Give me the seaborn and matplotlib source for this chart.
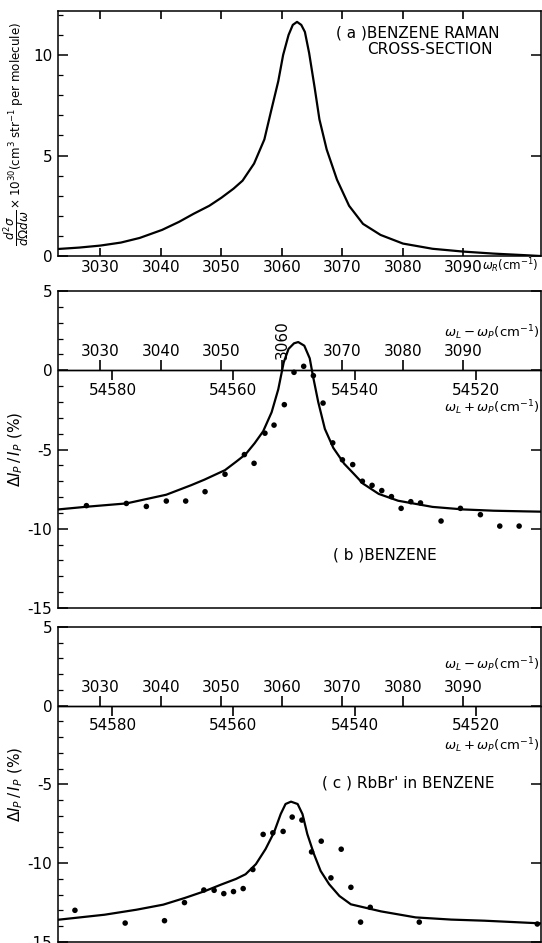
import matplotlib
matplotlib.use('Agg')
import matplotlib.pyplot as plt
import seaborn as sns
from matplotlib.ticker import MultipleLocator

# (a) benzene Raman cross-section, omega_R (cm^-1) vs d2sigma/dOmega domega x 1e30
raman_w = [3023.0, 3026.5, 3030.0, 3033.4, 3036.5, 3040.2, 3043.0, 3045.4, 3048.0,
           3050.0, 3052.0, 3053.5, 3055.4, 3057.1, 3058.2, 3059.4, 3060.2, 3061.1,
           3061.8, 3062.5, 3063.2, 3063.8, 3064.5, 3065.4, 3066.2, 3067.4, 3069.1,
           3071.1, 3073.4, 3076.3, 3080.0, 3084.9, 3090.0, 3095.0, 3100.3, 3102.8]
raman_sig = [0.35, 0.42, 0.52, 0.67, 0.9, 1.3, 1.7, 2.1, 2.5,
             2.9, 3.35, 3.75, 4.6, 5.8, 7.2, 8.7, 10.0, 11.0,
             11.5, 11.65, 11.5, 11.15, 10.1, 8.4, 6.8, 5.3, 3.8,
             2.5, 1.6, 1.05, 0.62, 0.36, 0.22, 0.12, 0.04, 0.0]

# (b) benzene, fit curve and measured points (Delta I_P / I_P in %)
benz_fit_w = [3023.0, 3028.0, 3034.3, 3040.9, 3045.0, 3047.2, 3050.6, 3052.5, 3054.0,
              3055.5, 3056.9, 3058.3, 3059.4, 3060.3, 3061.1, 3062.0, 3062.7, 3063.7,
              3064.6, 3065.1, 3066.0, 3067.1, 3068.5, 3070.3, 3071.8, 3073.4, 3076.0,
              3079.2, 3084.9, 3090.0, 3095.0, 3100.0, 3102.8]
benz_fit_d = [-8.78, -8.6, -8.4, -7.85, -7.25, -6.9, -6.3, -5.75, -5.3,
              -4.6, -3.85, -2.65, -1.2, 0.5, 1.35, 1.7, 1.78, 1.55,
              0.75, -0.3, -2.0, -3.7, -4.9, -5.9, -6.5, -7.15, -7.8,
              -8.23, -8.62, -8.78, -8.86, -8.9, -8.92]
benz_pts_w = [3027.7, 3034.3, 3037.6, 3040.9, 3044.1, 3047.3, 3050.6, 3053.8, 3055.4,
              3057.2, 3058.7, 3060.4, 3062.0, 3063.6, 3065.2, 3066.8, 3068.4, 3070.0,
              3071.7, 3073.3, 3074.9, 3076.5, 3078.1, 3079.7, 3081.3, 3082.9, 3086.3,
              3089.5, 3092.8, 3096.0, 3099.2]
benz_pts_d = [-8.54, -8.40, -8.59, -8.25, -8.25, -7.66, -6.56, -5.32, -5.87,
              -3.97, -3.46, -2.17, -0.13, 0.25, -0.34, -2.07, -4.58, -5.65,
              -5.95, -7.0, -7.26, -7.59, -7.97, -8.71, -8.29, -8.37, -9.51,
              -8.71, -9.11, -9.83, -9.83]

# (c) RbBr* in benzene
rbbr_fit_w = [3023.0, 3030.7, 3036.0, 3040.4, 3044.0, 3047.2, 3050.0, 3052.4, 3054.0,
              3055.7, 3057.3, 3058.7, 3059.8, 3060.6, 3061.5, 3062.6, 3063.4, 3064.2,
              3065.3, 3066.4, 3067.8, 3069.5, 3071.4, 3076.4, 3082.1, 3088.0, 3093.5,
              3102.8]
rbbr_fit_d = [-13.59, -13.27, -12.95, -12.63, -12.2, -11.78, -11.35, -11.0, -10.7,
              -10.06, -9.1, -8.04, -6.88, -6.24, -6.09, -6.24, -6.88, -8.15,
              -9.42, -10.49, -11.33, -12.08, -12.61, -13.06, -13.44, -13.58, -13.65,
              -13.82]
rbbr_pts_w = [3025.8, 3034.1, 3040.6, 3043.9, 3047.1, 3048.8, 3050.4, 3052.0, 3053.6,
              3055.2, 3056.9, 3058.5, 3060.2, 3061.7, 3063.3, 3064.9, 3066.5, 3068.1,
              3069.8, 3071.4, 3073.0, 3074.6, 3082.7, 3102.2]
rbbr_pts_d = [-12.99, -13.8, -13.65, -12.5, -11.7, -11.72, -11.93, -11.8, -11.61,
              -10.4, -8.17, -8.07, -7.98, -7.07, -7.26, -9.28, -8.6, -10.93,
              -9.11, -11.53, -13.74, -12.8, -13.74, -13.86]

upper_ticks = [3030, 3040, 3050, 3060, 3070, 3080, 3090]
lower_ticks = [54580, 54560, 54540, 54520]
SUM_W = 57612  # (w_L + w_P) = SUM_W - (w_L - w_P)
XLIM = (3023.0, 3102.8)

sns.set_style('ticks')
plt.rcParams['font.family'] = ['DejaVu Sans']
plt.rcParams['mathtext.fontset'] = 'dejavusans'
plt.rcParams['text.color'] = 'black'
plt.rcParams['axes.labelcolor'] = 'black'
FS = 11
TICK = dict(color='black', labelcolor='black')

fig = plt.figure(figsize=(5.42, 9.43), dpi=100)
ax_a = fig.add_axes([0.107, 0.7285, 0.891, 0.2598])
ax_b = fig.add_axes([0.107, 0.3552, 0.891, 0.3362])
ax_c = fig.add_axes([0.107, 0.0011, 0.891, 0.334])

for ax in (ax_a, ax_b, ax_c):
    for sp in ax.spines.values():
        sp.set_linewidth(1.1)
        sp.set_color('black')
        sp.set_visible(True)
    ax.set_xlim(*XLIM)

# ---- panel (a)
sns.lineplot(x=raman_w, y=raman_sig, ax=ax_a, color='black', lw=1.6,
             sort=False, estimator=None)
ax_a.set_ylim(0, 12.19)
ax_a.set_xticks(upper_ticks)
ax_a.tick_params(axis='x', which='major', direction='in', top=True, bottom=True,
                 length=6, width=1.2, labelsize=FS, pad=3, **TICK)
ax_a.yaxis.set_major_locator(MultipleLocator(5))
ax_a.yaxis.set_minor_locator(MultipleLocator(1))
ax_a.tick_params(axis='y', which='major', direction='in', left=True, right=True,
                 length=7, width=1.1, labelsize=FS, pad=4, **TICK)
ax_a.tick_params(axis='y', which='minor', direction='in', left=True, right=False,
                 length=3.5, width=0.9, color='black')
ax_a.set_ylabel(r'$\dfrac{d^2\sigma}{d\Omega d\omega}\times10^{30}$(cm$^3$ str$^{-1}$ per molecule)',
                fontsize=8.6, labelpad=1)
ax_a.text(0.745, 0.91, '( a )BENZENE RAMAN', transform=ax_a.transAxes,
          ha='center', va='center', fontsize=FS)
ax_a.text(0.77, 0.845, 'CROSS-SECTION', transform=ax_a.transAxes,
          ha='center', va='center', fontsize=FS)
ax_a.text(0.878, -0.04, r'$\omega_R$(cm$^{-1}$)', transform=ax_a.transAxes,
          ha='left', va='center', fontsize=8.5)


def delta_panel(ax, fit_w, fit_d, pts_w, pts_d, label, lab_xy, up_y, low_y, rotate_3060):
    sns.lineplot(x=fit_w, y=fit_d, ax=ax, color='black', lw=1.6,
                 sort=False, estimator=None)
    sns.scatterplot(x=pts_w, y=pts_d, ax=ax, color='black', s=16,
                    edgecolor='none', zorder=4)
    ax.set_ylim(-15, 5)
    ax.set_xticks([])
    ax.set_yticks([5, 0, -5, -10, -15], labels=['5', '0', '-5', '-10', '-15'])
    ax.yaxis.set_minor_locator(MultipleLocator(1))
    ax.tick_params(axis='y', which='major', direction='in', left=True, right=True,
                   length=7, width=1.1, labelsize=FS, pad=4, **TICK)
    ax.tick_params(axis='y', which='minor', direction='in', left=True, right=False,
                   length=3.5, width=0.9, color='black')
    ax.set_ylabel(r'$\Delta I_P\,/\,I_P$ (%)', fontsize=FS, labelpad=2)

    # inner frequency scales drawn on the zero line
    up = ax.secondary_xaxis(0, transform=ax.transData)
    up.set_alignment('top')
    up.set_xticks(upper_ticks, labels=[str(t) for t in upper_ticks])
    up.tick_params(axis='x', which='major', direction='out', length=7, width=1.2,
                   labelsize=FS, pad=1, **TICK)
    up.spines['top'].set_linewidth(1.0)
    up.spines['top'].set_color('black')
    if rotate_3060:
        for lbl in up.get_xticklabels():
            if lbl.get_text() == '3060':
                lbl.set_rotation(90)

    low = ax.secondary_xaxis(0, transform=ax.transData,
                             functions=(lambda x: SUM_W - x, lambda x: SUM_W - x))
    low.set_xticks(lower_ticks, labels=[str(t) for t in lower_ticks])
    low.tick_params(axis='x', which='major', direction='out', length=7, width=1.2,
                    labelsize=FS, pad=2, **TICK)
    low.spines['bottom'].set_linewidth(1.0)
    low.spines['bottom'].set_color('black')

    ax.text(0.996, up_y, r'$\omega_L - \omega_P$(cm$^{-1}$)', transform=ax.transAxes,
            ha='right', va='center', fontsize=9.5)
    ax.text(0.996, low_y, r'$\omega_L + \omega_P$(cm$^{-1}$)', transform=ax.transAxes,
            ha='right', va='center', fontsize=9.5)
    ax.text(lab_xy[0], lab_xy[1], label, transform=ax.transAxes,
            ha='center', va='center', fontsize=FS)


delta_panel(ax_b, benz_fit_w, benz_fit_d, benz_pts_w, benz_pts_d,
            '( b )BENZENE', (0.676, 0.167), 0.868, 0.632, True)
delta_panel(ax_c, rbbr_fit_w, rbbr_fit_d, rbbr_pts_w, rbbr_pts_d,
            "( c ) RbBr' in BENZENE", (0.725, 0.505), 0.88, 0.622, False)

fig.savefig('out.png', dpi=100)
plt.close(fig)
